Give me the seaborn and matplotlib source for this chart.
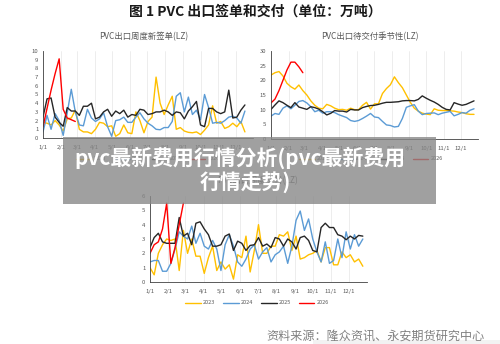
import numpy as np
import pandas as pd
import matplotlib
matplotlib.use("Agg")
import matplotlib.pyplot as plt
from matplotlib.patches import Rectangle
import seaborn as sns

# ---------------- data ----------------
years = ["2023", "2024", "2025", "2026"]
year_colors = ["#FFC000", "#5B9BD5", "#262626", "#FF0000"]
month_labels = ["1/1", "2/1", "3/1", "4/1", "5/1", "6/1",
                "7/1", "8/1", "9/1", "10/1", "11/1", "12/1"]
month_start_days = [0, 31, 59, 90, 120, 151, 181, 212, 243, 273, 304, 334]

# PVC出口周度新签单 (万吨)
orders_2023 = [1.8, 1.7, 1.5, 2.0, 1.5, 0.8, 2.2, 2.3, 3.2, 1.0, 0.7, 0.7, 0.5,
               1.0, 1.8, 1.7, 1.3, 1.4, 0.2, 0.5, 1.5, 0.6, 0.5, 3.0, 2.0, 0.6,
               1.9, 2.4, 7.0, 4.0, 2.7, 3.8, 4.8, 1.0, 1.2, 0.8, 0.65, 0.6, 0.7,
               0.4, 0.9, 1.5, 3.7, 1.7, 1.9, 1.1, 1.3, 1.7, 1.3, 1.9, 0.7]
orders_2024 = [0.7, 2.6, 1.0, 2.8, 2.0, 0.3, 2.9, 5.6, 3.0, 1.5, 1.4, 3.3, 2.3,
               1.9, 2.2, 2.9, 1.3, 0.2, 2.0, 2.1, 2.4, 1.8, 1.8, 2.4, 2.9, 2.2,
               1.7, 1.4, 1.0, 0.95, 1.2, 1.2, 1.9, 4.8, 5.2, 3.0, 4.7, 2.7, 3.2,
               2.1, 5.0, 3.5, 1.7, 1.8, 1.7, 2.0, 2.4, 2.5, 2.3, 1.7, 3.1]
orders_2025 = [2.4, 4.5, 4.6, 2.4, 1.8, 1.35, 3.5, 3.1, 3.1, 2.6, 3.65, 3.65, 4.0,
               2.2, 2.4, 3.0, 3.3, 2.5, 3.1, 2.8, 3.2, 2.4, 2.7, 2.6, 3.3, 3.2,
               2.7, 2.8, 3.0, 3.0, 3.2, 3.0, 2.6, 3.0, 2.9, 2.2, 3.1, 3.6, 4.2,
               1.5, 1.3, 3.4, 3.4, 3.0, 2.8, 3.0, 5.5, 2.3, 2.4, 3.2, 3.8]
orders_2026 = [1.3, 3.4, 5.5, 7.4, 9.1, 3.3, 2.3, 2.1, 1.9]

# PVC出口待交付季节性 (万吨)
pending_2023 = [21.8, 22.6, 23.0, 21.5, 19.0, 17.8, 17.0, 18.4, 16.5, 15.0, 13.0,
                11.5, 10.5, 10.3, 11.8, 11.3, 10.5, 10.0, 10.1, 9.8, 10.5, 10.0,
                10.0, 11.5, 12.5, 10.2, 12.0, 12.0, 15.5, 17.2, 18.5, 21.2, 19.2,
                17.5, 15.0, 12.5, 10.5, 9.5, 8.8, 8.5, 8.3, 10.3, 9.8, 9.7, 9.7,
                9.6, 9.5, 9.2, 9.0, 8.6, 8.4, 8.4]
pending_2024 = [7.8, 8.7, 8.4, 10.5, 11.3, 10.3, 11.5, 12.8, 13.1, 12.3, 11.0,
                9.3, 9.8, 8.8, 9.3, 9.3, 9.0, 8.3, 7.8, 7.3, 6.3, 6.0, 6.3, 7.0,
                7.8, 8.7, 7.5, 7.3, 6.0, 4.8, 4.6, 4.1, 4.3, 7.0, 10.8, 11.3,
                11.7, 9.5, 8.3, 8.7, 8.8, 8.9, 8.3, 8.8, 9.1, 9.4, 7.9, 8.4, 9.0,
                8.8, 9.8, 10.3]
pending_2025 = [10.1, 11.6, 13.0, 12.4, 11.5, 10.7, 12.4, 10.9, 10.5, 10.1, 11.0,
                10.7, 10.2, 9.3, 8.2, 8.75, 9.7, 9.5, 9.5, 9.2, 10.1, 9.9, 9.9,
                10.7, 11.1, 11.4, 11.5, 11.8, 12.2, 12.5, 12.5, 12.6, 12.7, 13.0,
                13.1, 13.1, 13.0, 13.5, 14.7, 13.9, 13.2, 12.6, 11.8, 10.8, 10.1,
                9.9, 12.4, 11.9, 11.5, 11.8, 12.4, 13.0]
pending_2026 = [12.3, 13.6, 16.5, 20.0, 23.5, 26.2, 26.2, 24.6, 22.6]

# PVC出口周度交付 (万吨)
delivery_2023 = [1.0, 0.5, 2.0, 2.6, 3.0, 2.9, 3.0, 0.8, 3.6, 2.0, 3.0, 1.8, 1.8,
                 0.6, 1.7, 2.5, 0.8, 1.4, 0.9, 1.2, 0.2, 1.9, 1.7, 3.2, 0.7, 2.2,
                 4.0, 2.0, 2.0, 2.5, 2.5, 3.3, 3.2, 3.5, 2.2, 3.2, 1.6, 1.7, 1.9,
                 2.0, 2.2, 1.4, 2.4, 2.4, 1.2, 1.2, 2.1, 1.7, 1.9, 1.4, 1.6, 1.1]
delivery_2024 = [1.4, 1.5, 1.5, 0.75, 0.75, 1.3, 2.3, 3.5, 3.2, 3.0, 3.9, 2.7, 3.4,
                 2.5, 2.3, 2.9, 2.3, 0.8, 2.6, 3.3, 2.5, 1.4, 1.1, 1.6, 2.3, 2.6,
                 1.6, 2.1, 2.4, 1.4, 1.9, 2.1, 2.5, 1.3, 2.5, 4.3, 4.95, 3.6, 4.4,
                 3.0, 2.1, 1.4, 2.8, 1.3, 1.5, 3.0, 1.7, 3.5, 2.3, 3.3, 2.5, 3.0]
delivery_2025 = [2.4, 3.1, 3.4, 2.8, 2.7, 2.7, 2.7, 4.5, 3.2, 3.4, 2.6, 4.1, 4.2,
                 3.7, 3.3, 2.5, 2.5, 2.6, 3.2, 3.35, 2.2, 2.85, 2.7, 2.2, 2.55, 2.6,
                 3.1, 2.5, 2.65, 2.4, 3.1, 3.0, 2.5, 3.0, 2.8, 2.3, 3.1, 3.2, 2.9,
                 2.2, 2.1, 3.8, 4.1, 3.8, 3.8, 3.3, 3.2, 2.95, 3.2, 3.0, 3.25, 3.2]
delivery_2026 = [2.0, 2.6, 2.8, 3.7, 5.5, 1.3, 2.4, 4.0, 5.5]

panel_titles = ["PVC出口周度新签单(LZ)", "PVC出口待交付季节性(LZ)", "PVC出口周度交付(LZ)"]
main_title = "图 1 PVC 出口签单和交付（单位：万吨）"
banner_lines = ["pvc最新费用行情分析(pvc最新费用", "行情走势)"]
source_note = "资料来源：隆众资讯、永安期货研究中心"


def long_frame(series):
    rows = []
    for yr, vals in zip(years, series):
        for i, v in enumerate(vals):
            rows.append({"week": i, "value": v, "year": yr})
    return pd.DataFrame(rows)


# ---------------- style ----------------
sns.set_style("white")
plt.rcParams["font.family"] = ["Noto Sans CJK SC", "DejaVu Sans"]
palette = dict(zip(years, year_colors))
tick_color = "#595959"

W, H = 500, 344
fig = plt.figure(figsize=(W / 100, H / 100), dpi=100)


def px_axes(left, top, right, bottom):
    return fig.add_axes([left / W, 1 - bottom / H, (right - left) / W, (bottom - top) / H])


panels = [
    (px_axes(43, 51, 253, 138), [orders_2023, orders_2024, orders_2025, orders_2026],
     10, 1, (144, 37), (148, 159)),
    (px_axes(271, 51, 478, 139), [pending_2023, pending_2024, pending_2025, pending_2026],
     30, 5, (370, 37), (371, 159)),
    (px_axes(150, 196, 367, 282), [delivery_2023, delivery_2024, delivery_2025, delivery_2026],
     6, 1, (258, 181), (257, 303)),
]

month_pos = [d / 7 for d in month_start_days]

for ax, series, ymax, ystep, title_xy, leg_xy in panels:
    df = long_frame(series)
    sns.lineplot(data=df, x="week", y="value", hue="year", palette=palette,
                 hue_order=years, estimator=None, linewidth=1.0, ax=ax)
    ax.set_xlim(0, 52)
    ax.set_ylim(0, ymax)
    ax.set_yticks(np.arange(0, ymax + ystep / 2, ystep))
    ax.set_xticks(month_pos)
    ax.set_xticklabels(month_labels)
    ax.set_xlabel("")
    ax.set_ylabel("")
    ax.grid(axis="x", color="#e6e6e6", linewidth=0.5)
    ax.axvline(52, color="#e6e6e6", linewidth=0.5)
    ax.set_axisbelow(True)
    for side in ["top", "right"]:
        ax.spines[side].set_visible(False)
    for side in ["left", "bottom"]:
        ax.spines[side].set_color("#404040")
        ax.spines[side].set_linewidth(0.6)
    ax.tick_params(axis="both", labelsize=4.3, colors=tick_color, length=1.8,
                   width=0.5, pad=1.5)
    ax.tick_params(axis="x", pad=3)
    ax.tick_params(axis="both", color="#404040")

    handles, labels = ax.get_legend_handles_labels()
    ax.legend(handles, labels, loc="center",
              bbox_to_anchor=(leg_xy[0] / W, 1 - leg_xy[1] / H),
              bbox_transform=fig.transFigure, ncol=4, frameon=False,
              fontsize=4, handlelength=2.8, handletextpad=0.4,
              columnspacing=1.4, labelcolor=tick_color)

    fig.text(title_xy[0] / W, 1 - title_xy[1] / H, panel_titles[panels.index((ax, series, ymax, ystep, title_xy, leg_xy))],
             ha="center", va="center", fontsize=6, color=tick_color)

# main title
fig.text(255 / W, 1 - 12 / H, main_title, ha="center", va="center",
         fontsize=10, fontweight="bold", color="#1a1a1a")

# semi-transparent caption banner
fig.add_artist(Rectangle((63 / W, 1 - 204 / H), 373 / W, 67 / H,
                         transform=fig.transFigure, facecolor="#888888",
                         alpha=0.8, edgecolor="none", zorder=10))
fig.text(240 / W, 1 - 158 / H, banner_lines[0], ha="center", va="center",
         fontsize=15, fontweight="bold", color="white", zorder=11)
fig.text(245 / W, 1 - 182 / H, banner_lines[1], ha="center", va="center",
         fontsize=15, fontweight="bold", color="white", zorder=11)

# source note
fig.add_artist(Rectangle((313 / W, 0), 187 / W, 4 / H, transform=fig.transFigure,
                         facecolor="#f2f2f2", edgecolor="none", zorder=0))
fig.text(485 / W, 1 - 336 / H, source_note, ha="right", va="center",
         fontsize=8.7, color="#808080", zorder=2)

fig.savefig("out.png", dpi=100)
